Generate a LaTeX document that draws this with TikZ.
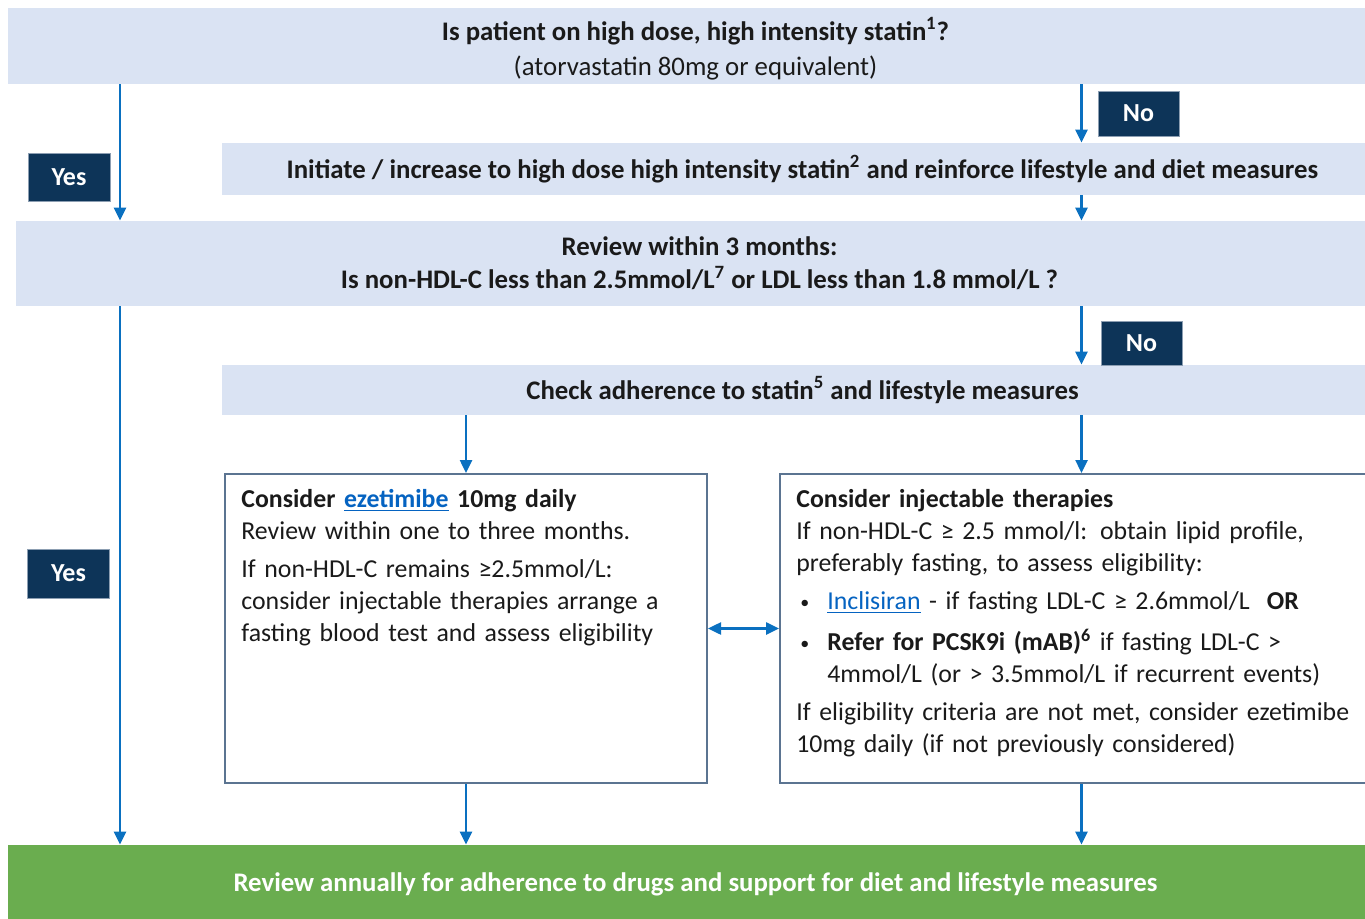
\documentclass[tikz,border=0pt]{standalone}
\usepackage{fontspec}
\setmainfont{Carlito}
\usepackage{xcolor}
\usetikzlibrary{positioning, arrows.meta}

\definecolor{bandblue}{HTML}{DAE3F3}
\definecolor{navy}{HTML}{0D3458}
\definecolor{flowblue}{HTML}{0A70C0}
\definecolor{boxline}{HTML}{5B7491}
\definecolor{reviewgreen}{HTML}{6AAD4F}
\definecolor{linkblue}{HTML}{0563C1}
\definecolor{inktext}{HTML}{1A1A1A}

\newcommand{\druglink}[1]{\textcolor{linkblue}{\underline{#1}}}
\newcommand{\smallbullet}{\hspace*{2pt}\makebox[13.5pt][l]{\raisebox{0.5pt}{\fontsize{9}{9}\selectfont•}}}

\begin{document}
\begin{tikzpicture}[
    x=0.5pt, y=-0.5pt,
    text=inktext,
    band/.style={rectangle, fill=bandblue, inner sep=0pt, align=center,
        font=\fontsize{13.4}{16.5}\selectfont\bfseries},
    answer/.style={rectangle, fill=navy, draw=boxline!70, line width=0.4pt,
        text=white, minimum width=41pt, font=\fontsize{13}{14}\selectfont\bfseries},
    option/.style={rectangle, draw=boxline, line width=1pt, fill=white,
        minimum height=154.5pt},
    boxtext/.style={anchor=north west, inner sep=0pt, align=left, text width=300pt,
        font=\fontsize{12.9}{16}\selectfont},
    flow/.style={draw=flowblue, line width=1.25pt, -{Triangle[length=6.5pt, width=6pt]}}
]
    \useasboundingbox (0,0) rectangle (1365,919);
    \clip (0,0) rectangle (1365,919);

    % Question bands
    \node[band, minimum width=687.5pt, minimum height=38pt,
        font=\fontsize{13.4}{17.5}\selectfont\bfseries] (statin) at (695.5,46)
        {\rule{0pt}{14pt}Is patient on high dose, high intensity statin\textsuperscript{1}?\\
         \mdseries (atorvastatin 80mg or equivalent)};
    \node[band, minimum width=580.5pt, minimum height=26pt] (initiate) at (802.5,169)
        {Initiate / increase to high dose high intensity statin\textsuperscript{2} and reinforce lifestyle and diet measures};
    \node[band, minimum width=683.5pt, minimum height=42.5pt] (review) at (699.5,263.5)
        {Review within 3 months:\\
         Is non-HDL-C less than 2.5mmol/L\textsuperscript{7} or LDL less than 1.8 mmol/L ?};
    \node[band, minimum width=580.5pt, minimum height=25pt] (adhere) at (802.5,390)
        {Check adherence to statin\textsuperscript{5} and lifestyle measures};

    % Yes / No labels
    \node[answer, minimum height=24pt] (yes1) at (69,177) {Yes};
    \node[answer, minimum height=24.5pt] (yes2) at (68.5,573.5) {Yes};
    \node[answer, minimum width=40.5pt, minimum height=22.5pt] (no1) at (1138.5,113.5) {No};
    \node[answer, minimum width=40.5pt, minimum height=22pt] (no2) at (1141.5,343) {No};

    % Treatment options
    \node[option, minimum width=241pt] (eze) at (466,628.5) {};
    \node[option, minimum width=301.5pt] (inj) at (1081.5,628.5) {};

    \node[boxtext] (ezetext) at (241,489) {%
        \textbf{Consider \druglink{ezetimibe} 10mg daily}\\
        Review within one to three months.\\[3pt]
        If non-HDL-C remains ≥2.5mmol/L:\\
        consider injectable therapies arrange a\\
        fasting blood test and assess eligibility};

    \node[boxtext] (injtext) at (796,489) {%
        \textbf{Consider injectable therapies}\\
        If non-HDL-C ≥ 2.5 mmol/l: obtain lipid profile,\\
        preferably fasting, to assess eligibility:\\[3pt]
        \smallbullet\druglink{Inclisiran} - if fasting LDL-C ≥ 2.6mmol/L\ \ \textbf{OR}\\[4.5pt]
        \smallbullet\textbf{Refer for PCSK9i (mAB)\textsuperscript{6}} if fasting LDL-C >\\
        \hspace*{15.5pt}4mmol/L (or > 3.5mmol/L if recurrent events)\\[3pt]
        If eligibility criteria are not met, consider ezetimibe\\
        10mg daily (if not previously considered)};

    % Annual review
    \node[rectangle, fill=reviewgreen, minimum width=687.5pt, minimum height=39pt,
        text=white, font=\fontsize{13.4}{14}\selectfont\bfseries] (annual) at (695.5,884)
        {Review annually for adherence to drugs and support for diet and lifestyle measures};

    % Connections
    \coordinate (yesline) at (120,0);
    \draw[flow] (statin.south -| yesline) -- (review.north -| yesline);
    \draw[flow] (review.south -| yesline) -- (annual.north -| yesline);

    \draw[flow] (statin.south -| inj.north) -- (initiate.north -| inj.north);
    \draw[flow] (initiate.south -| inj.north) -- (review.north -| inj.north);
    \draw[flow] (review.south -| inj.north) -- (adhere.north -| inj.north);

    \draw[flow] (adhere.south -| eze.north) -- (eze.north);
    \draw[flow] (adhere.south -| inj.north) -- (inj.north);

    \draw[flow, {Triangle[length=6.5pt, width=6pt]}-{Triangle[length=6.5pt, width=6pt]}] (eze.east) -- (inj.west);

    \draw[flow] (eze.south) -- (annual.north -| eze.south);
    \draw[flow] (inj.south) -- (annual.north -| inj.south);
\end{tikzpicture}
\end{document}
